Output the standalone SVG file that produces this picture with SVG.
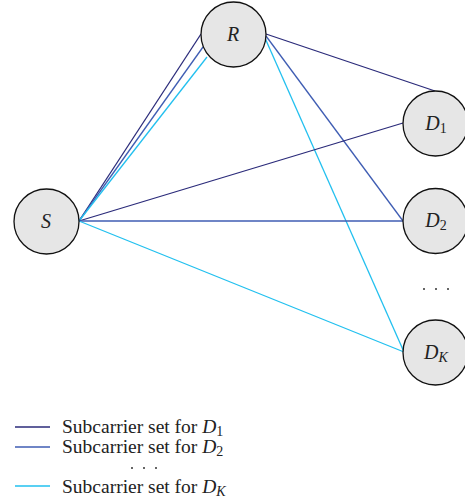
<svg xmlns="http://www.w3.org/2000/svg" width="465" height="501" viewBox="0 0 465 501">
<style>
.node{fill:#e6e6e6;stroke:#111;stroke-width:1.3}
.lbl{font-family:"Liberation Serif",serif;font-size:20px;font-style:italic;fill:#222;text-anchor:middle}
.sub{font-size:14px}
.up{font-style:normal}
.c1{stroke:#2b2b7a;stroke-width:1.3;fill:none}
.c2{stroke:#3f5db3;stroke-width:1.3;fill:none}
.c3{stroke:#22c0ef;stroke-width:1.3;fill:none}
.leg{font-family:"Liberation Serif",serif;font-size:19.5px;fill:#222}
.dot{fill:#333}
</style>
<g id="connectors">
<line class="c1" x1="79" y1="221" x2="201" y2="34"/>
<line class="c2" x1="79" y1="221" x2="203" y2="47"/>
<line class="c3" x1="79" y1="221" x2="207" y2="57"/>
<line class="c1" x1="266" y1="34" x2="435" y2="91"/>
<line class="c2" x1="266" y1="36" x2="403" y2="221"/>
<line class="c3" x1="265" y1="38" x2="404" y2="352"/>
<line class="c1" x1="79" y1="221" x2="403" y2="123"/>
<line class="c2" x1="79" y1="221" x2="403" y2="221"/>
<line class="c3" x1="79" y1="221" x2="404" y2="352"/>
</g>
<g id="R"><circle class="node" cx="233.5" cy="34.5" r="32.5"/><text class="lbl" x="233" y="41">R</text></g>
<g id="S"><circle class="node" cx="46.5" cy="221.5" r="32.5"/><text class="lbl" x="46" y="228">S</text></g>
<g id="D1"><circle class="node" cx="435.5" cy="123.5" r="32.5"/><text class="lbl" x="436" y="130">D<tspan class="sub up" dy="3">1</tspan></text></g>
<g id="D2"><circle class="node" cx="435.5" cy="221" r="32.5"/><text class="lbl" x="436" y="227">D<tspan class="sub up" dy="3">2</tspan></text></g>
<g id="DK"><circle class="node" cx="435.5" cy="352.5" r="32.5"/><text class="lbl" x="436" y="359">D<tspan class="sub" dy="3">K</tspan></text></g>
<g id="dots">
<circle class="dot" cx="424" cy="289" r="1"/><circle class="dot" cx="436" cy="289" r="1"/><circle class="dot" cx="448" cy="289" r="1"/>
</g>
<g id="legend">
<line class="c1" x1="15" y1="427" x2="50" y2="427"/>
<line class="c2" x1="15" y1="447" x2="50" y2="447"/>
<line class="c3" x1="15" y1="486" x2="50" y2="486"/>
<text class="leg" x="62" y="433">Subcarrier set for <tspan font-style="italic">D</tspan><tspan font-size="14" dy="3">1</tspan></text>
<text class="leg" x="62" y="453">Subcarrier set for <tspan font-style="italic">D</tspan><tspan font-size="14" dy="3">2</tspan></text>
<text class="leg" x="62" y="493">Subcarrier set for <tspan font-style="italic">D</tspan><tspan font-size="14" font-style="italic" dy="3">K</tspan></text>
<circle class="dot" cx="132" cy="468" r="1"/><circle class="dot" cx="144" cy="468" r="1"/><circle class="dot" cx="156" cy="468" r="1"/>
</g>
</svg>
